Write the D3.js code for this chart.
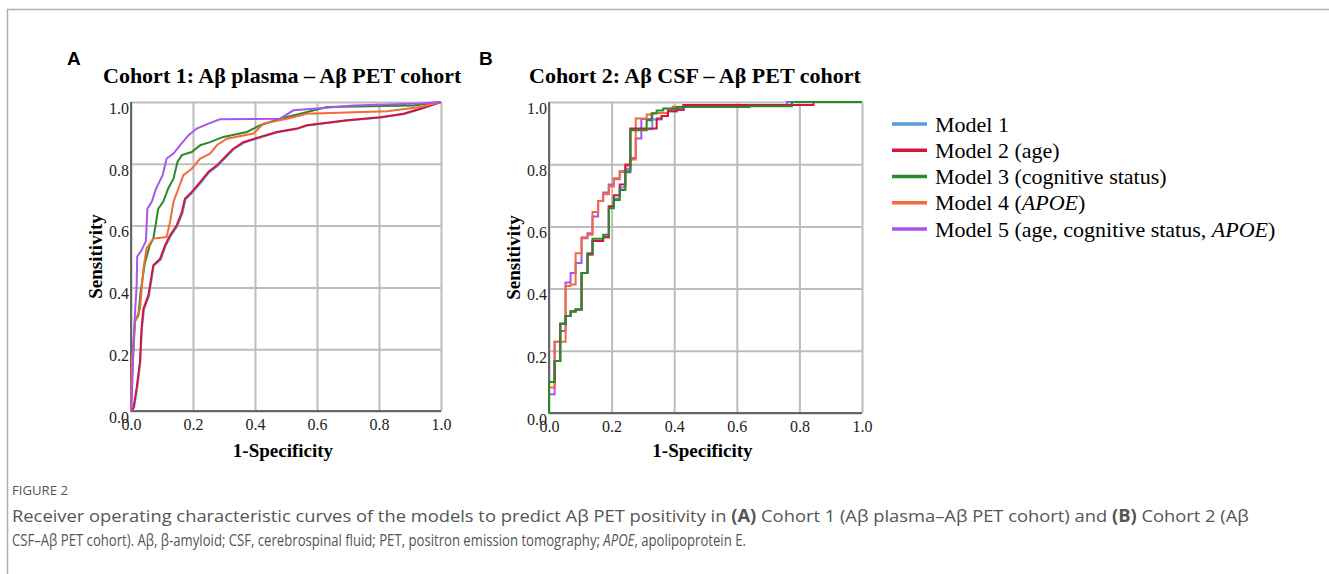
<!DOCTYPE html>
<html lang="en">
<head>
<meta charset="utf-8">
<script src="https://cdnjs.cloudflare.com/ajax/libs/d3/7.8.5/d3.min.js"></script>
<style>
  body { margin: 0; background: #fff; }
  svg { display: block; }
</style>
</head>
<body>
<script>
// ---- data ----
var ticks = [0, 0.2, 0.4, 0.6, 0.8, 1.0]
var tickLabels = ["0.0", "0.2", "0.4", "0.6", "0.8", "1.0"]

var modelNames = ["Model 1", "Model 2 (age)", "Model 3 (cognitive status)", "Model 4 (APOE)", "Model 5 (age, cognitive status, APOE)"]
var modelColors = ["#5b9bd9", "#d4143c", "#2a8a2a", "#f26b38", "#a855f0"]

// cohort 1 (fpr, tpr)
var c1_m1 = [[0,0],[0.01,0.012],[0.02,0.075],[0.03,0.16],[0.035,0.265],[0.042,0.33],[0.058,0.372],[0.073,0.47],[0.096,0.49],[0.112,0.535],[0.128,0.566],[0.149,0.598],[0.166,0.64],[0.176,0.685],[0.198,0.707],[0.225,0.738],[0.252,0.772],[0.279,0.793],[0.311,0.826],[0.332,0.848],[0.364,0.868],[0.419,0.886],[0.472,0.902],[0.537,0.913],[0.569,0.924],[0.698,0.94],[0.806,0.95],[0.881,0.961],[0.935,0.977],[1,1]]
var c1_m2 = [[0,0],[0.008,0.01],[0.018,0.073],[0.029,0.16],[0.034,0.267],[0.04,0.33],[0.056,0.375],[0.072,0.472],[0.094,0.493],[0.11,0.537],[0.126,0.569],[0.147,0.6],[0.164,0.644],[0.174,0.687],[0.196,0.709],[0.223,0.741],[0.25,0.774],[0.277,0.795],[0.309,0.828],[0.33,0.849],[0.362,0.87],[0.417,0.887],[0.47,0.903],[0.535,0.914],[0.567,0.925],[0.696,0.941],[0.804,0.951],[0.879,0.962],[0.933,0.978],[1,1]]
var c1_m3 = [[0,0],[0.003,0.106],[0.013,0.29],[0.024,0.31],[0.031,0.386],[0.045,0.48],[0.061,0.537],[0.072,0.558],[0.081,0.612],[0.088,0.655],[0.104,0.677],[0.12,0.72],[0.137,0.752],[0.15,0.806],[0.164,0.828],[0.196,0.838],[0.223,0.86],[0.255,0.87],[0.298,0.887],[0.374,0.903],[0.417,0.925],[0.481,0.946],[0.546,0.962],[0.632,0.984],[0.912,0.989],[1,1]]
var c1_m4 = [[0,0],[0.003,0.16],[0.013,0.29],[0.029,0.33],[0.04,0.46],[0.05,0.526],[0.072,0.558],[0.115,0.563],[0.126,0.612],[0.137,0.677],[0.153,0.72],[0.169,0.763],[0.196,0.784],[0.223,0.817],[0.255,0.833],[0.277,0.86],[0.309,0.881],[0.395,0.898],[0.427,0.93],[0.503,0.946],[0.567,0.962],[0.826,0.97],[0.933,0.984],[1,1]]
var c1_m5 = [[0,0],[0.003,0.05],[0.008,0.22],[0.013,0.32],[0.018,0.4],[0.02,0.5],[0.034,0.52],[0.048,0.55],[0.053,0.655],[0.067,0.677],[0.081,0.72],[0.102,0.763],[0.115,0.817],[0.137,0.833],[0.158,0.86],[0.185,0.892],[0.212,0.914],[0.25,0.93],[0.287,0.944],[0.481,0.946],[0.524,0.973],[0.61,0.98],[0.718,0.989],[0.933,0.995],[1,1]]

// cohort 2 (fpr, tpr) - step corners
var c2_m1 = [[0,0],[0,0.1],[0.018,0.167],[0.036,0.287],[0.053,0.312],[0.069,0.326],[0.085,0.333],[0.104,0.45],[0.123,0.51],[0.139,0.553],[0.173,0.565],[0.191,0.662],[0.207,0.69],[0.226,0.725],[0.244,0.785],[0.26,0.912],[0.33,0.944],[0.36,0.955],[0.38,0.97],[0.408,0.978],[0.43,0.99],[0.776,1],[1,1]]
var c2_m2 = [[0,0],[0,0.1],[0.018,0.167],[0.036,0.287],[0.053,0.312],[0.069,0.326],[0.085,0.333],[0.104,0.45],[0.123,0.51],[0.139,0.553],[0.173,0.565],[0.191,0.665],[0.207,0.7],[0.226,0.735],[0.244,0.797],[0.26,0.915],[0.344,0.947],[0.36,0.955],[0.38,0.97],[0.408,0.975],[0.43,0.99],[0.845,1],[1,1]]
var c2_m3 = [[0,0],[0,0.1],[0.018,0.167],[0.036,0.287],[0.053,0.312],[0.069,0.326],[0.085,0.333],[0.104,0.45],[0.123,0.514],[0.139,0.56],[0.173,0.573],[0.191,0.658],[0.207,0.685],[0.226,0.717],[0.244,0.774],[0.26,0.909],[0.312,0.941],[0.328,0.963],[0.344,0.973],[0.365,0.979],[0.408,0.984],[0.64,0.986],[0.776,1],[1,1]]
var c2_m4 = [[0,0],[0,0.082],[0.018,0.229],[0.053,0.408],[0.069,0.413],[0.085,0.514],[0.104,0.565],[0.123,0.573],[0.139,0.646],[0.157,0.682],[0.173,0.703],[0.191,0.728],[0.207,0.755],[0.226,0.778],[0.244,0.8],[0.26,0.815],[0.277,0.947],[0.312,0.96],[0.33,0.965],[0.38,0.972],[0.395,0.985],[0.43,0.99],[0.776,1],[1,1]]
var c2_m5 = [[0,0],[0,0.06],[0.018,0.229],[0.036,0.264],[0.053,0.42],[0.069,0.45],[0.085,0.482],[0.104,0.562],[0.123,0.578],[0.139,0.632],[0.157,0.682],[0.173,0.709],[0.191,0.735],[0.207,0.752],[0.226,0.775],[0.244,0.78],[0.26,0.82],[0.277,0.883],[0.295,0.945],[0.33,0.965],[0.38,0.975],[0.43,0.99],[0.76,1],[1,1]]

// ---- layout ----
var width = 1329, height = 574
var serif = "'Liberation Serif', 'Times New Roman', serif"
var gridColor = "#bdbdbd"

var svg = d3.select("body").append("svg")
  .attr("width", width)
  .attr("height", height)

// outer frame (top + left rule)
svg.append("path")
  .attr("d", `M7.5,${height} V9.5 H${width}`)
  .attr("fill", "none")
  .attr("stroke", "#b0b0b0")
  .attr("stroke-width", 1.5)

var panels = [
  {letter: "A", lx: 67, title: "Cohort 1: Aβ plasma – Aβ PET cohort", tx: 103,
   x0: 131, x1: 441, y0: 411, y1: 102,
   series: [c1_m1, c1_m2, c1_m3, c1_m4, c1_m5], order: [0, 1, 2, 3, 4], curve: d3.curveLinear},
  {letter: "B", lx: 479, title: "Cohort 2: Aβ CSF – Aβ PET cohort", tx: 529,
   x0: 549, x1: 862, y0: 413, y1: 102,
   series: [c2_m1, c2_m2, c2_m3, c2_m4, c2_m5], order: [4, 3, 0, 1, 2], curve: d3.curveStepAfter}
]

panels.forEach(p => drawPanel(p))

function drawPanel(p) {
  var x = d3.scaleLinear().domain([0, 1]).range([p.x0, p.x1])
  var y = d3.scaleLinear().domain([0, 1]).range([p.y0, p.y1])
  var g = svg.append("g")

  // panel letter + title
  g.append("text")
    .attr("x", p.lx).attr("y", 65)
    .attr("font-family", "'Liberation Sans', Arial, sans-serif")
    .attr("font-weight", "bold")
    .attr("font-size", 19)
    .text(p.letter)
  g.append("text")
    .attr("x", p.tx).attr("y", 83)
    .attr("font-family", serif)
    .attr("font-weight", "bold")
    .attr("font-size", 22)
    .text(p.title)

  // grid via axes
  var gx = g.append("g")
    .attr("transform", `translate(0,${p.y0})`)
    .call(d3.axisBottom(x).tickValues(ticks).tickSize(-(p.y0 - p.y1)).tickFormat((d, i) => tickLabels[i]))
  var gy = g.append("g")
    .attr("transform", `translate(${p.x0},0)`)
    .call(d3.axisLeft(y).tickValues(ticks).tickSize(-(p.x1 - p.x0)).tickFormat((d, i) => tickLabels[i]))

  ;[gx, gy].forEach(a => {
    a.select(".domain").remove()
    a.selectAll(".tick line").attr("stroke", gridColor).attr("stroke-width", 2)
    a.selectAll(".tick text")
      .attr("font-family", serif)
      .attr("font-size", 16)
      .attr("fill", "#222")
  })
  gx.selectAll(".tick text").attr("dy", "1em").attr("y", 3)
  gy.selectAll(".tick text").attr("x", -2).attr("dy", "0.7em").attr("y", 0)

  // dark left + bottom axis lines
  g.append("path")
    .attr("d", `M${p.x0},${p.y1} V${p.y0} H${p.x1}`)
    .attr("fill", "none")
    .attr("stroke", "#444")
    .attr("stroke-width", 1.5)

  // axis titles
  g.append("text")
    .attr("x", (p.x0 + p.x1) / 2 - 3).attr("y", 457)
    .attr("text-anchor", "middle")
    .attr("font-family", serif)
    .attr("font-weight", "bold")
    .attr("font-size", 19)
    .text("1-Specificity")
  g.append("text")
    .attr("transform", `translate(${p.x0 - 29},${(p.y0 + p.y1) / 2})rotate(-90)`)
    .attr("text-anchor", "middle")
    .attr("font-family", serif)
    .attr("font-weight", "bold")
    .attr("font-size", 19)
    .text("Sensitivity")

  // roc curves
  var line = d3.line().x(d => x(d[0])).y(d => y(d[1])).curve(p.curve)
  p.order.forEach(i => {
    g.append("path")
      .datum(p.series[i])
      .attr("fill", "none")
      .attr("stroke", modelColors[i])
      .attr("stroke-width", 2)
      .attr("stroke-linejoin", "miter")
      .attr("d", line)
  })
}

// ---- legend ----
var legend = svg.append("g").attr("font-family", serif).attr("font-size", 22)
var legendY = d3.scalePoint().domain(d3.range(modelNames.length)).range([124, 229])
modelNames.forEach((name, i) => {
  var ly = legendY(i)
  legend.append("line")
    .attr("x1", 892).attr("x2", 927)
    .attr("y1", ly).attr("y2", ly)
    .attr("stroke", modelColors[i])
    .attr("stroke-width", 3.5)
  var t = legend.append("text").attr("x", 935).attr("y", ly).attr("dy", "0.35em")
  var parts = name.split("APOE")
  parts.forEach((s, k) => {
    t.append("tspan").text(s)
    if (k < parts.length - 1) t.append("tspan").attr("font-style", "italic").text("APOE")
  })
})

// ---- caption ----
var cap = svg.append("g")
  .attr("font-family", "'Open Sans', 'Noto Sans', sans-serif")
  .attr("fill", "#555")

// squeeze a caption line horizontally so it spans the same width as the reference
function fitLine(t, x, y, w) {
  var natural = t.node().getComputedTextLength()
  t.attr("transform", `translate(${x},${y}) scale(${w / natural},1)`)
}

var f2 = cap.append("text").attr("font-size", 13).text("FIGURE 2")
fitLine(f2, 12, 495, 56)

var l1 = cap.append("text").attr("font-size", 17)
l1.append("tspan").text("Receiver operating characteristic curves of the models to predict Aβ PET positivity in ")
l1.append("tspan").attr("font-weight", "bold").text("(A)")
l1.append("tspan").text(" Cohort 1 (Aβ plasma–Aβ PET cohort) and ")
l1.append("tspan").attr("font-weight", "bold").text("(B)")
l1.append("tspan").text(" Cohort 2 (Aβ")
fitLine(l1, 12, 522, 1238)

var l2 = cap.append("text").attr("font-size", 17)
l2.append("tspan").text("CSF–Aβ PET cohort). Aβ, β-amyloid; CSF, cerebrospinal fluid; PET, positron emission tomography; ")
l2.append("tspan").attr("font-style", "italic").text("APOE")
l2.append("tspan").text(", apolipoprotein E.")
fitLine(l2, 12, 546, 734)
</script>
</body>
</html>
